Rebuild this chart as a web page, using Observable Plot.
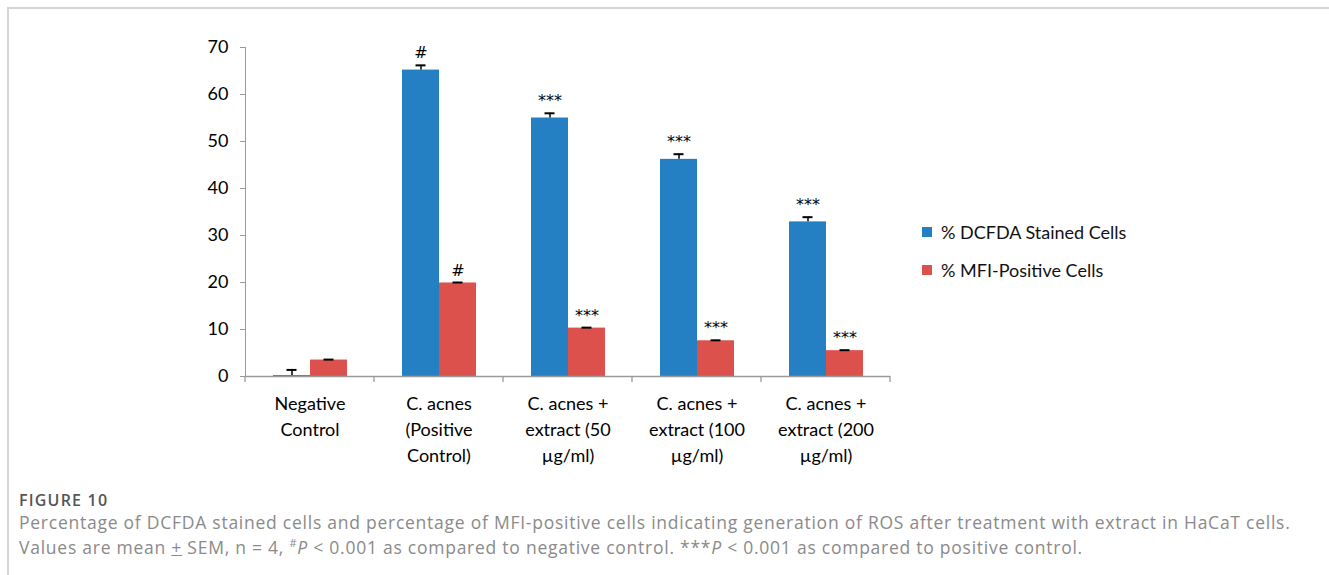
<!DOCTYPE html>
<html>
<head>
<meta charset="utf-8">
<script src="https://cdn.jsdelivr.net/npm/d3@7"></script>
<script src="https://cdn.jsdelivr.net/npm/@observablehq/plot@0.6"></script>
<style>
  body { margin: 0; background: #fff; }
  #wrap { position: relative; width: 1329px; height: 575px; overflow: hidden; }
  #border { position: absolute; left: 7px; top: 7px; width: 1400px; height: 700px;
            border-top: 2px solid #d4d4d4; border-left: 2px solid #d4d4d4; }
  #chart { position: absolute; left: 0; top: 0; }
  #chart svg text { fill: #000; }
  .legend { position: absolute; left: 922px; font-family: Lato, "Open Sans", sans-serif;
            font-size: 18px; color: #111; white-space: nowrap; display: flex; align-items: center; }
  .legend span.sw { display: inline-block; width: 10px; height: 10px; margin-right: 9px; }
  #fig { position: absolute; left: 19px; top: 489px; font-family: "Open Sans", sans-serif;
         font-size: 16px; font-weight: 600; color: #555; letter-spacing: 1.2px; }
  .cap { position: absolute; left: 19px; font-family: "Open Sans", sans-serif;
         font-size: 17.5px; color: #8a8a8a; white-space: nowrap; letter-spacing: 0.75px; }
</style>
</head>
<body>
<div id="wrap">
  <div id="border"></div>
  <div id="chart"></div>
  <div class="legend" style="top:221px"><span class="sw" style="background:#2580c3"></span>% DCFDA Stained Cells</div>
  <div class="legend" style="top:259px"><span class="sw" style="background:#dc514c"></span>% MFI-Positive Cells</div>
  <div id="fig">FIGURE 10</div>
  <div class="cap" style="top:510px">Percentage of DCFDA stained cells and percentage of MFI-positive cells indicating generation of ROS after treatment with extract in HaCaT cells.</div>
  <div class="cap" style="top:535px">Values are mean <u>+</u> SEM, n = 4, <sup style="font-size:11px">#</sup><i>P</i> &lt; 0.001 as compared to negative control. ***<i>P</i> &lt; 0.001 as compared to positive control.</div>
</div>
<script>
const categories = [
  "Negative\nControl",
  "C. acnes\n(Positive\nControl)",
  "C. acnes +\nextract (50\nµg/ml)",
  "C. acnes +\nextract (100\nµg/ml)",
  "C. acnes +\nextract (200\nµg/ml)"
];
const seriesNames = ["% DCFDA Stained Cells", "% MFI-Positive Cells"];
const seriesColors = ["#2580c3", "#dc514c"];
const dcfda = [0.2, 65.2, 55.0, 46.2, 32.9];
const dcfdaErr = [1.2, 1.0, 1.0, 1.1, 1.0];
const mfi = [3.5, 19.9, 10.3, 7.6, 5.5];
const mfiErr = [0.1, 0.1, 0.1, 0.1, 0.1];
const dcfdaSig = ["", "#", "***", "***", "***"];
const mfiSig = ["", "#", "***", "***", "***"];
const yTicks = [0, 10, 20, 30, 40, 50, 60, 70];

const rows = [];
categories.forEach((c, i) => {
  rows.push({cat: c, series: seriesNames[0], value: dcfda[i], err: dcfdaErr[i], sig: dcfdaSig[i]});
  rows.push({cat: c, series: seriesNames[1], value: mfi[i], err: mfiErr[i], sig: mfiSig[i]});
});

const chart = Plot.plot({
  width: 1329,
  height: 492,
  marginTop: 47,
  marginBottom: 116,
  marginLeft: 245,
  marginRight: 439,
  style: {fontFamily: "Lato, 'Open Sans', sans-serif", fontSize: "18px", color: "#9a9a9a", background: "transparent"},
  fx: {domain: categories, padding: 0, axis: null},
  x: {domain: seriesNames, paddingInner: 0, paddingOuter: 0.743, axis: null},
  y: {domain: [0, 70], ticks: yTicks, tickSize: 5, tickPadding: 12, label: null, line: true},
  color: {domain: seriesNames, range: seriesColors},
  marks: [
    Plot.barY(rows, {fx: "cat", x: "series", y: "value", fill: "series"}),
    Plot.ruleY([0], {stroke: "#9a9a9a", strokeWidth: 1.3}),
    Plot.ruleX(rows, {fx: "cat", x: "series", y1: "value", y2: d => d.value + d.err, stroke: "#000", strokeWidth: 1.5}),
    Plot.tickY(rows, {fx: "cat", x: "series", y: d => d.value + d.err, stroke: "#000", strokeWidth: 2, insetLeft: 13.5, insetRight: 13.5}),
    Plot.text(rows, {fx: "cat", x: "series", y: d => d.value + d.err, text: "sig", dy: -12,
      fontFamily: "'DejaVu Sans', sans-serif", fontSize: 16, fill: "#333"}),
    Plot.text(categories, {fx: d => d, text: d => d, frameAnchor: "bottom", lineAnchor: "top",
      dy: 15, lineHeight: 1.44, fontSize: 18, fill: "#000"})
  ]
});
document.getElementById("chart").appendChild(chart);

// boundary ticks along the category axis, positioned from the fx scale
const fxs = chart.scale("fx");
const [r0, r1] = fxs.range;
const step = (r1 - r0) / fxs.domain.length;
const ys = chart.scale("y");
const y0 = ys.apply ? ys.apply(0) : 376;
const svg = d3.select(chart);
for (let i = 0; i <= fxs.domain.length; i++) {
  svg.append("line")
    .attr("x1", r0 + i * step).attr("x2", r0 + i * step)
    .attr("y1", y0).attr("y2", y0 + 6)
    .attr("stroke", "#9a9a9a").attr("stroke-width", 1.3);
}
</script>
</body>
</html>
